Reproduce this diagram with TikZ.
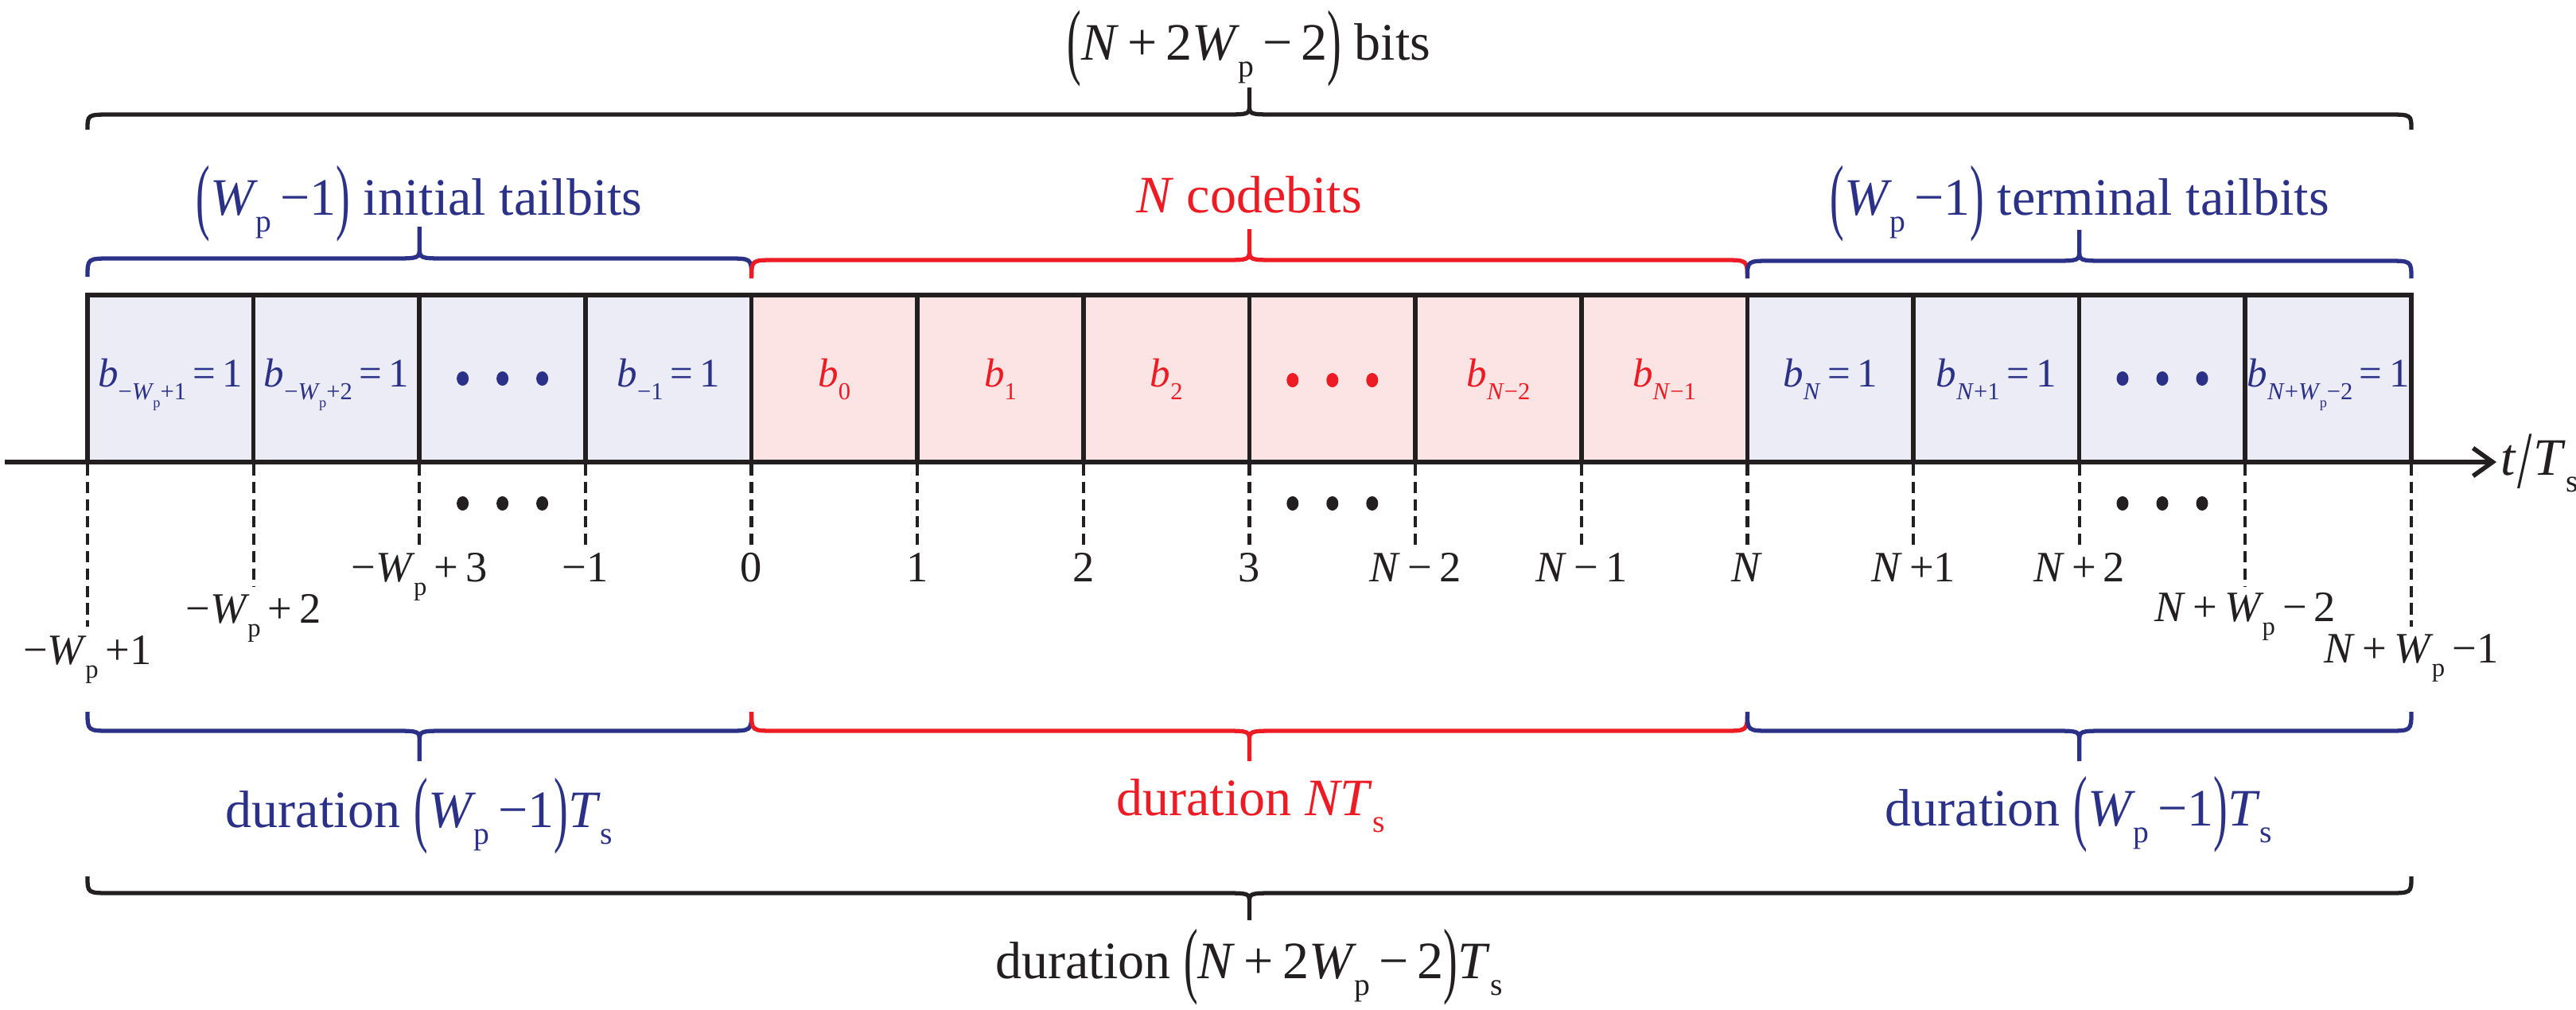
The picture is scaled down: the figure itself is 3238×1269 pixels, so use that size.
\documentclass[tikz,border=0pt]{standalone}
\usepackage{fontspec}
\setmainfont{Liberation Serif}
\usepackage{graphicx}
\usetikzlibrary{arrows.meta}

\definecolor{myblue}{HTML}{2B3187}
\definecolor{myred}{HTML}{ED1C24}
\definecolor{myblack}{HTML}{231F20}
\definecolor{bluefill}{HTML}{EBECF6}
\definecolor{redfill}{HTML}{FCE4E4}

\newcommand{\ii}[1]{\textit{#1}}
\newcommand{\LP}{\raisebox{-0.17em}{\scalebox{0.8}[1.6]{(}}}
\newcommand{\RP}{\raisebox{-0.17em}{\scalebox{0.8}[1.6]{)}}}
\newcommand{\SB}[1]{\raisebox{-0.32em}{\scalebox{0.6}{#1}}}
\newcommand{\Wp}{\ii{W}\kern-0.04em\SB{p}}

\newcommand{\HBrace}[6][]{%
  \draw[#1] (#2,#4) .. controls (#2,#5) .. ({#2+30},#5)
    -- ({(#2+#3)/2-35},#5) .. controls ({(#2+#3)/2},#5) .. ({(#2+#3)/2},{#5+0.35*(#6-#5)})
    -- ({(#2+#3)/2},#6)
    ({(#2+#3)/2},{#5+0.35*(#6-#5)}) .. controls ({(#2+#3)/2},#5) .. ({(#2+#3)/2+35},#5)
    -- ({#3-30},#5) .. controls (#3,#5) .. (#3,#4);}

\tikzset{
  lbl/.style={inner sep=0pt, anchor=base, font=\fontsize{18.8}{22}\selectfont},
  tick/.style={inner sep=0pt, anchor=base, font=\fontsize{15.5}{18}\selectfont, text=myblack},
  cellt/.style={inner sep=0pt, anchor=base, font=\fontsize{14.5}{17}\selectfont},
  cellbox/.style={draw=myblack, line width=1.6pt, minimum width=2.0864cm, minimum height=2.10cm, inner sep=0pt},
  dashln/.style={draw=myblack, line width=1.2pt, dash pattern=on 4pt off 2.2pt},
  brc/.style={line width=1.5pt},
}

\begin{document}
\begin{tikzpicture}[x=0.01cm,y=-0.01cm]
\useasboundingbox (0,0) rectangle (3238,1269);

% cells
\foreach \i/\f in {0/bluefill,1/bluefill,2/bluefill,3/bluefill,4/redfill,5/redfill,6/redfill,7/redfill,8/redfill,9/redfill,10/bluefill,11/bluefill,12/bluefill,13/bluefill}
  \node[cellbox, fill=\f] (c\i) at ({110+208.64*(\i+0.5)},476) {};

% axis
\coordinate (axs) at (6,581);
\coordinate (axe) at (3138,581);
\draw[myblack, line width=1.7pt, -{Straight Barb[length=7pt,width=10pt,line width=1.6pt]}] (axs) -- (axe);
\node[inner sep=0pt, anchor=base west, font=\fontsize{18.8}{22}\selectfont, text=myblack] (tlab) at (3143,597)
  {\ii{t}\kern0.02em\raisebox{-0.25em}{\scalebox{1}[1.55]{/}}\kern0.02em\ii{T}\SB{s}};

% dashed ticks
\foreach \i/\e in {0/788,1/738,2/685,3/685,4/685,5/685,6/685,7/685,8/685,9/685,10/685,11/685,12/685,13/738,14/788} {
  \coordinate (ta\i) at ({110+208.64*\i},584);
  \coordinate (tb\i) at ({110+208.64*\i},\e);
  \draw[dashln] (ta\i) -- (tb\i);
}

% tick labels
\node[tick] (l0) at (110,835) {−\Wp\,+1};
\node[tick] (l1) at (318.6,783) {−\Wp\,+\,2};
\node[tick] (l2) at (527.3,731) {−\Wp\,+\,3};
\node[tick] (l3) at (735.9,731) {−1};
\node[tick] (l4) at (944.6,731) {0};
\node[tick] (l5) at (1153.2,731) {1};
\node[tick] (l6) at (1361.8,731) {2};
\node[tick] (l7) at (1570.5,731) {3};
\node[tick] (l8) at (1779.1,731) {\ii{N}\,−\,2};
\node[tick] (l9) at (1987.8,731) {\ii{N}\,−\,1};
\node[tick] (l10) at (2196.4,731) {\ii{N}};
\node[tick] (l11) at (2405.0,731) {\ii{N}\,+1};
\node[tick] (l12) at (2613.7,731) {\ii{N}\,+\,2};
\node[tick] (l13) at (2822.3,781) {\ii{N}\,+\,\Wp\,−\,2};
\node[tick] (l14) at (3031,833) {\ii{N}\,+\,\Wp\,−1};

% cell labels
\node[cellt, text=myblue] (b0) at (c0 |- 0,486) {\ii{b}\SB{−\Wp+1}\,=\,1};
\node[cellt, text=myblue] (b1) at (c1 |- 0,486) {\ii{b}\SB{−\Wp+2}\,=\,1};
\node[cellt, text=myblue] (b3) at (c3 |- 0,486) {\ii{b}\SB{−1}\,=\,1};
\node[cellt, text=myred] (b4) at (c4 |- 0,486) {\ii{b}\SB{0}};
\node[cellt, text=myred] (b5) at (c5 |- 0,486) {\ii{b}\SB{1}};
\node[cellt, text=myred] (b6) at (c6 |- 0,486) {\ii{b}\SB{2}};
\node[cellt, text=myred] (b8) at (c8 |- 0,486) {\ii{b}\SB{\ii{N}−2}};
\node[cellt, text=myred] (b9) at (c9 |- 0,486) {\ii{b}\SB{\ii{N}−1}};
\node[cellt, text=myblue] (b10) at (c10 |- 0,486) {\ii{b}\SB{\ii{N}}\,=\,1};
\node[cellt, text=myblue] (b11) at (c11 |- 0,486) {\ii{b}\SB{\ii{N}+1}\,=\,1};
\node[cellt, text=myblue] (b13) at (c13 |- 0,486) {\ii{b}\SB{\ii{N}+\Wp−2}\,=\,1};

% dots
\foreach \xc/\col/\yy in {631.6/myblue/476, 1674.8/myred/478, 2718/myblue/476, 631.6/myblack/633, 1674.8/myblack/633, 2718/myblack/633}
  \foreach \d in {-50,0,50}
    \fill[\col] ({\xc+\d},\yy) ellipse [x radius=7.5, y radius=9];

% top braces
\HBrace[brc, myblack]{110}{3031}{163}{144}{110}
\HBrace[brc, myblue]{110}{944.6}{348}{325}{285}
\HBrace[brc, myred]{944.6}{2196.4}{350}{327}{288}
\HBrace[brc, myblue]{2196.4}{3031}{350}{328}{289}

% bottom braces
\HBrace[brc, myblue]{110}{944.6}{895}{919}{957}
\HBrace[brc, myred]{944.6}{2196.4}{895}{919}{957}
\HBrace[brc, myblue]{2196.4}{3031}{895}{919}{957}
\HBrace[brc, myblack]{110}{3031}{1102}{1123}{1157}

% brace labels
\node[lbl, text=myblack] (ttl) at (1570,75) {\LP\ii{N}\,+\,2\Wp\,−\,2\RP{} bits};
\node[lbl, text=myblue] (tl) at (527,270) {\LP\Wp\,−1\RP{} initial tailbits};
\node[lbl, text=myred] (tm) at (1570,267) {\ii{N} codebits};
\node[lbl, text=myblue] (tr) at (2614,270) {\LP\Wp\,−1\RP{} terminal tailbits};
\node[lbl, text=myblue] (dl) at (527,1040) {duration \LP\Wp\,−1\RP\ii{T}\SB{s}};
\node[lbl, text=myred] (dm) at (1572,1025) {duration \ii{NT}\SB{s}};
\node[lbl, text=myblue] (dr) at (2613,1038) {duration \LP\Wp\,−1\RP\ii{T}\SB{s}};
\node[lbl, text=myblack] (db) at (1570,1230) {duration \LP\ii{N}\,+\,2\Wp\,−\,2\RP\ii{T}\SB{s}};
\end{tikzpicture}
\end{document}
